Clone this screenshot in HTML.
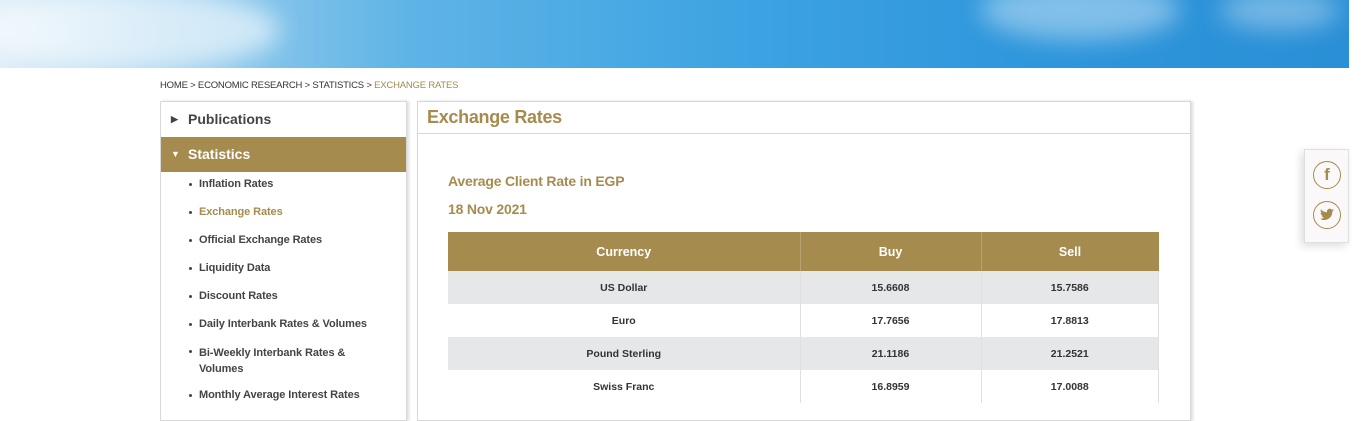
<!DOCTYPE html>
<html><head><style>
*{margin:0;padding:0;box-sizing:border-box}
body{width:1366px;height:400px;overflow:hidden;background:#fff;font-family:"Liberation Sans",sans-serif;position:relative}
.hdr{position:absolute;left:0;top:0;width:1349px;height:68px;overflow:hidden;background:linear-gradient(90deg,#dfeef8 0%,#9fd0ee 12%,#5fb4e6 30%,#3da3e2 55%,#2f97dc 75%,#2a8fd6 100%)}
.c1{position:absolute;border-radius:50%;background:rgba(255,255,255,.6);filter:blur(12px)}
.bc{position:absolute;left:160px;top:80px;font-size:9.5px;color:#333;letter-spacing:-0.2px}
.bc span{color:#a68b4f}
.side{position:absolute;left:160px;top:101px;width:247px;height:320px;border:1px solid #d8d8d8;box-shadow:2px 0 3px #ddd}
.row{height:35px;line-height:35px;font-size:14px;font-weight:bold;color:#444;padding-left:27px;position:relative}
.row.act{background:#a68b4f;color:#fff}
.row i{position:absolute;left:10px;font-style:normal;font-size:9px}
.sub{font-size:11px;font-weight:bold;color:#444;position:absolute;left:38px;letter-spacing:-0.1px}
.sub:before{content:"";position:absolute;left:-10px;top:5px;width:3px;height:3px;border-radius:50%;background:#444}
.sub.g{color:#a68b4f}
.main{position:absolute;left:417px;top:101px;width:774px;height:320px;border:1px solid #d8d8d8;box-shadow:2px 0 3px #ddd}
.ttl{height:32px;border-bottom:1px solid #d8d8d8;font-size:18px;font-weight:bold;color:#a68b4f;padding:5px 9px;letter-spacing:-0.3px}
.h{position:absolute;left:30px;font-size:14px;font-weight:bold;color:#a68b4f;letter-spacing:-0.2px}
table{position:absolute;left:30px;top:130px;width:711px;border-collapse:collapse;font-size:10.5px;font-weight:bold;color:#333}
th{background:#a68b4f;color:#fff;height:39px;font-size:12.5px;border-right:1px solid #b8a070}
td{height:33px;text-align:center;border-right:1px solid #e0e0e0}
tr.z td{background:#e6e7e9}
.soc{position:absolute;left:1304px;top:149px;width:45px;height:94px;background:#faf8f8;border:1px solid #e2dede;box-shadow:-3px 3px 8px #ddd}
.ic{position:absolute;left:8px;width:28px;height:28px;border:1.5px solid #a68b4f;border-radius:50%;color:#a68b4f;text-align:center;font-weight:bold;line-height:26px;font-size:17px}
</style></head><body>
<div class="hdr"><div class="c1" style="left:-20px;top:-10px;width:300px;height:80px"></div><div class="c1" style="left:980px;top:-20px;width:200px;height:60px;background:rgba(255,255,255,.4)"></div><div class="c1" style="left:1220px;top:-10px;width:120px;height:40px;background:rgba(255,255,255,.35)"></div></div>
<div class="bc">HOME &gt; ECONOMIC RESEARCH &gt; STATISTICS &gt; <span>EXCHANGE RATES</span></div>
<div class="side">
<div class="row"><i>▶</i>Publications</div>
<div class="row act"><i>▼</i>Statistics</div>
<div class="sub" style="top:76px">Inflation Rates</div>
<div class="sub g" style="top:104px">Exchange Rates</div>
<div class="sub" style="top:132px">Official Exchange Rates</div>
<div class="sub" style="top:160px">Liquidity Data</div>
<div class="sub" style="top:188px">Discount Rates</div>
<div class="sub" style="top:216px">Daily Interbank Rates &amp; Volumes</div>
<div class="sub" style="top:243px;line-height:16px">Bi-Weekly Interbank Rates &amp;<br>Volumes</div>
<div class="sub" style="top:287px">Monthly Average Interest Rates</div>
</div>
<div class="main">
<div class="ttl">Exchange Rates</div>
<div class="h" style="top:71px">Average Client Rate in EGP</div>
<div class="h" style="top:99px">18 Nov 2021</div>
<table>
<tr><th style="width:352px">Currency</th><th style="width:181px">Buy</th><th style="border:0">Sell</th></tr>
<tr class="z"><td>US Dollar</td><td>15.6608</td><td>15.7586</td></tr>
<tr><td>Euro</td><td>17.7656</td><td>17.8813</td></tr>
<tr class="z"><td>Pound Sterling</td><td>21.1186</td><td>21.2521</td></tr>
<tr><td>Swiss Franc</td><td>16.8959</td><td>17.0088</td></tr>
</table>
</div>
<div class="soc"><div class="ic" style="top:11px">f</div><div class="ic" style="top:51px"><svg width="16" height="14" viewBox="0 0 16 14" style="margin-top:6px"><path d="M15 2c-.5.3-1 .4-1.6.5.6-.4 1-.9 1.2-1.5-.6.3-1.2.6-1.8.7A2.8 2.8 0 0 0 8 4.3 8 8 0 0 1 2 1.3a2.8 2.8 0 0 0 .9 3.7c-.5 0-.9-.1-1.3-.3 0 1.4 1 2.5 2.2 2.8-.4.1-.9.1-1.3 0 .4 1.1 1.4 1.9 2.6 2A5.6 5.6 0 0 1 1 10.7 8 8 0 0 0 13.3 4v-.4c.7-.4 1.2-1 1.7-1.6z" fill="#a68b4f"/></svg></div></div>
</body></html>
